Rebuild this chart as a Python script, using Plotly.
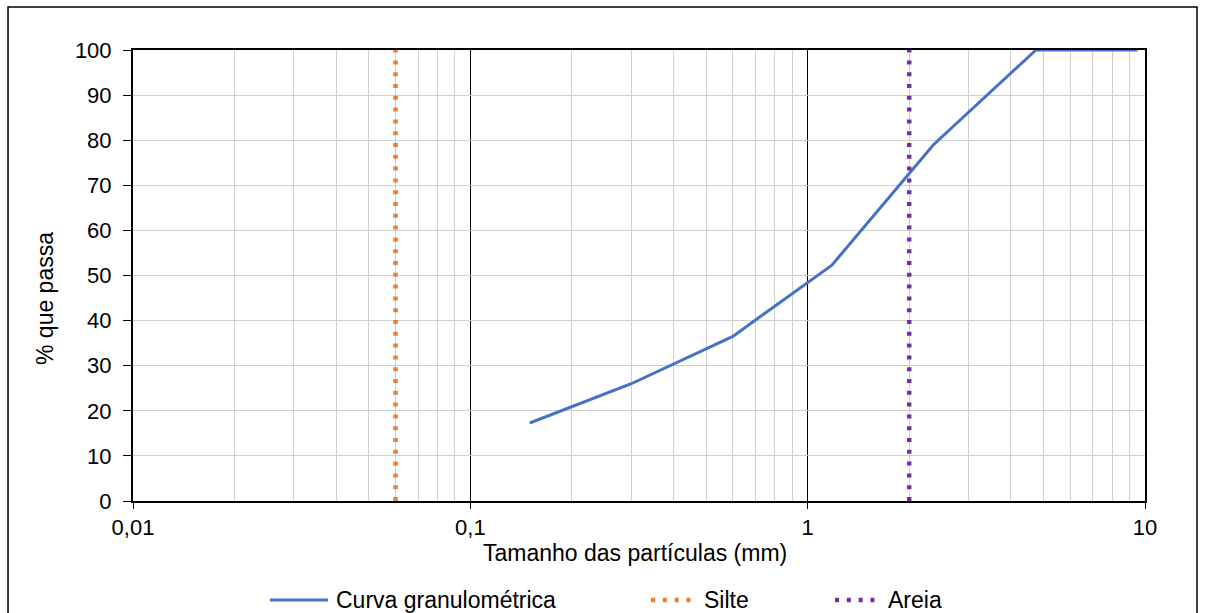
import plotly.graph_objects as go

# Data
tamanho = [0.15, 0.3, 0.6, 1.18, 2.36, 4.75, 9.5]
passa = [17.3, 26.0, 36.5, 52.3, 79.0, 100.0, 100.0]
silte_x = [0.06, 0.06]
areia_x = [2.0, 2.0]
limite_y = [0, 100]
x_tickvals = [0.01, 0.1, 1, 10]
x_ticktext = ["0,01", "0,1", "1", "10"]
x_minor = [0.02, 0.03, 0.04, 0.05, 0.06, 0.07, 0.08, 0.09,
           0.2, 0.3, 0.4, 0.5, 0.6, 0.7, 0.8, 0.9,
           2, 3, 4, 5, 6, 7, 8, 9]
y_tickvals = [0, 10, 20, 30, 40, 50, 60, 70, 80, 90, 100]
series_names = ["Curva granulométrica", "Silte", "Areia"]
series_colors = ["#4472C4", "#ED7D31", "#7030A0"]

FONT = "Liberation Sans, Arial, sans-serif"
DOT = "4px,7.8px"

fig = go.Figure()
fig.add_trace(go.Scatter(x=tamanho, y=passa, mode="lines", name=series_names[0],
                         line=dict(color=series_colors[0], width=3)))
fig.add_trace(go.Scatter(x=silte_x, y=limite_y, mode="lines", name=series_names[1],
                         line=dict(color=series_colors[1], width=4.5, dash=DOT)))
fig.add_trace(go.Scatter(x=areia_x, y=limite_y, mode="lines", name=series_names[2],
                         line=dict(color=series_colors[2], width=4.5, dash=DOT)))

# outer frame
fig.add_shape(type="rect", xref="paper", yref="paper", x0=-0.1235, x1=1.0514, y0=-0.4, y1=1.0953,
              line=dict(color="#000000", width=1.5), layer="below")

# custom legend (longer samples, like the original)
leg_y = -0.2195
leg_items = [
    (0.1354, 0.1927, 0.1986, 3, "solid"),
    (0.5119, 0.5543, 0.5623, 4.5, DOT),
    (0.6937, 0.7362, 0.7441, 4.5, DOT),
]
for (x0, x1, xt, w, d), name, col in zip(leg_items, series_names, series_colors):
    fig.add_shape(type="line", xref="paper", yref="paper", x0=x0, x1=x1, y0=leg_y, y1=leg_y,
                  line=dict(color=col, width=w, dash=d))
    fig.add_annotation(xref="paper", yref="paper", x=xt, y=leg_y, text=name, showarrow=False,
                       xanchor="left", yanchor="middle", font=dict(size=23, family=FONT, color="#000000"))

# axis titles
fig.add_annotation(xref="paper", yref="paper", x=0.496, y=-0.115, text="Tamanho das partículas (mm)",
                   showarrow=False, xanchor="center", yanchor="middle",
                   font=dict(size=23, family=FONT, color="#000000"))
fig.add_annotation(xref="paper", yref="paper", x=-0.087, y=0.45, text="% que passa", textangle=-90,
                   showarrow=False, xanchor="center", yanchor="middle",
                   font=dict(size=23, family=FONT, color="#000000"))

fig.update_layout(
    width=1207, height=613,
    margin=dict(l=133, r=62, t=50, b=112),
    paper_bgcolor="white", plot_bgcolor="white",
    font=dict(family=FONT, size=22, color="#000000"),
    showlegend=False,
    xaxis=dict(type="log", range=[-2, 1], tickvals=x_tickvals, ticktext=x_ticktext,
               showgrid=True, gridcolor="#000000", gridwidth=1,
               minor=dict(tickvals=x_minor, showgrid=True, gridcolor="#cfcfcf", gridwidth=1, ticks=""),
               showline=True, linecolor="#000000", linewidth=2, mirror=True,
               ticks="outside", ticklen=6, tickcolor="#000000",
               automargin=False, zeroline=False),
    yaxis=dict(range=[0, 100], tickvals=y_tickvals,
               showgrid=True, gridcolor="#cfcfcf", gridwidth=1,
               showline=True, linecolor="#000000", linewidth=2, mirror=True,
               ticks="outside", ticklen=8, tickcolor="#000000", ticklabelstandoff=7,
               automargin=False, zeroline=False),
)

fig.write_html("out.html")
